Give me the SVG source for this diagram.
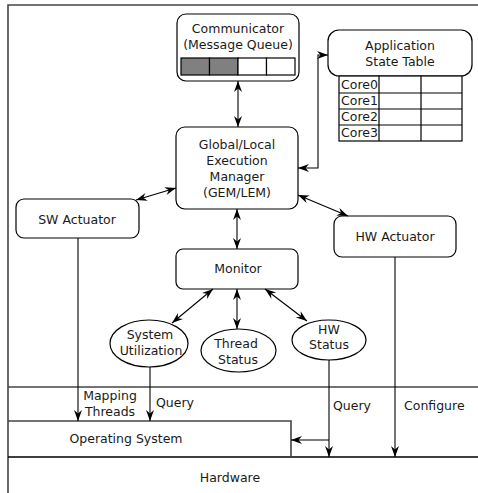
<svg xmlns="http://www.w3.org/2000/svg" width="478" height="493" viewBox="0 0 478 493">
<defs>
<marker id="ah" markerUnits="userSpaceOnUse" markerWidth="12" markerHeight="10" refX="11" refY="4.5" orient="auto-start-reverse" viewBox="0 0 12 10">
<path d="M0,0.5 L11,4.5 L0,8.5 L3.5,4.5 Z" fill="#000"/>
</marker>
<style>
text{font-family:"DejaVu Sans","Liberation Sans",sans-serif;font-size:12.5px;fill:#1a1a1a}
.c{text-anchor:middle}
.box{fill:#fff;stroke:#000;stroke-width:1.2}
.frame{fill:none;stroke:#444;stroke-width:1.6}
.ln{fill:none;stroke:#000;stroke-width:1.1}
.a2{marker-start:url(#ah);marker-end:url(#ah)}
.a1{marker-end:url(#ah)}
.cell{fill:#fff;stroke:#000;stroke-width:1.2}
.fill{fill:#808080;stroke:#000;stroke-width:1.2}
</style>
</defs>
<rect width="478" height="493" fill="#fff"/>
<g id="frame">
<path class="frame" d="M8,493 V5 H478"/>
<path class="frame" d="M8,387 H478"/>
</g>
<g id="hardware">
<path d="M8,457 H478" stroke="#000" stroke-width="1.6"/>
<text class="c" x="230" y="482">Hardware</text>
</g>
<g id="os">
<path class="frame" d="M8,421 H291 V457"/>
<text class="c" x="126" y="443">Operating System</text>
</g>
<g id="communicator">
<rect class="box" x="177" y="14" width="122" height="67" rx="9"/>
<text class="c" x="238" y="33">Communicator</text>
<text class="c" x="238" y="49">(Message Queue)</text>
<rect class="fill" x="181" y="58" width="28.5" height="17"/>
<rect class="fill" x="209.5" y="58" width="28.5" height="17"/>
<rect class="cell" x="238" y="58" width="28.5" height="17"/>
<rect class="cell" x="266.5" y="58" width="28.5" height="17"/>
</g>
<g id="appstate">
<rect class="box" x="328" y="30" width="144" height="46" rx="11"/>
<text class="c" x="400" y="50">Application</text>
<text class="c" x="400" y="66">State Table</text>
<g fill="#fff" stroke="#000" stroke-width="1.2">
<rect x="339" y="76" width="123" height="65"/>
<path d="M339,93 H462 M339,109 H462 M339,125 H462 M379,76 V141 M421,76 V141"/>
</g>
<text x="341" y="89">Core0</text>
<text x="341" y="105">Core1</text>
<text x="341" y="121">Core2</text>
<text x="341" y="137">Core3</text>
</g>
<g id="gem">
<rect class="box" x="176" y="127" width="122" height="82" rx="9"/>
<text class="c" x="237" y="149">Global/Local</text>
<text class="c" x="237" y="165">Execution</text>
<text class="c" x="237" y="181">Manager</text>
<text class="c" x="237" y="197">(GEM/LEM)</text>
</g>
<g id="sw">
<rect class="box" x="16" y="199" width="123" height="39" rx="8"/>
<text class="c" x="77" y="224">SW Actuator</text>
</g>
<g id="hw">
<rect class="box" x="334" y="216" width="122" height="41" rx="8"/>
<text class="c" x="395" y="241">HW Actuator</text>
</g>
<g id="monitor">
<rect class="box" x="176" y="249" width="122" height="40" rx="7"/>
<text class="c" x="238" y="273">Monitor</text>
</g>
<g id="sysutil">
<ellipse class="box" cx="149" cy="343.5" rx="39" ry="23.5"/>
<text class="c" x="150" y="339">System</text>
<text class="c" x="151" y="355">Utilization</text>
</g>
<g id="thread">
<ellipse class="box" cx="238.5" cy="350.5" rx="37.5" ry="21.5"/>
<text class="c" x="236" y="348">Thread</text>
<text class="c" x="238" y="364">Status</text>
</g>
<g id="hwstatus">
<ellipse class="box" cx="329" cy="340" rx="37" ry="20"/>
<text class="c" x="329" y="334">HW</text>
<text class="c" x="329" y="349">Status</text>
</g>
<g id="connectors">
<line class="ln a2" x1="238" y1="81" x2="238" y2="127"/>
<path class="ln a2" d="M298,168 H318 V55 H328"/>
<line class="ln a2" x1="176" y1="188" x2="136" y2="200"/>
<line class="ln a2" x1="298" y1="195" x2="348" y2="216"/>
<line class="ln a2" x1="237" y1="209" x2="237" y2="249"/>
<line class="ln a2" x1="213" y1="289" x2="172" y2="323"/>
<line class="ln a2" x1="237" y1="289" x2="237" y2="329"/>
<line class="ln a2" x1="265" y1="289" x2="307" y2="321"/>
<line class="ln a1" x1="78" y1="238" x2="78" y2="421"/>
<line class="ln a1" x1="150" y1="367" x2="150" y2="421"/>
<line class="ln a1" x1="329" y1="360" x2="329" y2="457"/>
<line class="ln a1" x1="329" y1="440" x2="291" y2="440"/>
<line class="ln a1" x1="395" y1="257" x2="395" y2="457"/>
</g>
<g id="labels">
<text class="c" x="110" y="400">Mapping</text>
<text class="c" x="110" y="416">Threads</text>
<text x="156" y="407">Query</text>
<text x="333" y="410">Query</text>
<text x="404" y="410">Configure</text>
</g>
</svg>
